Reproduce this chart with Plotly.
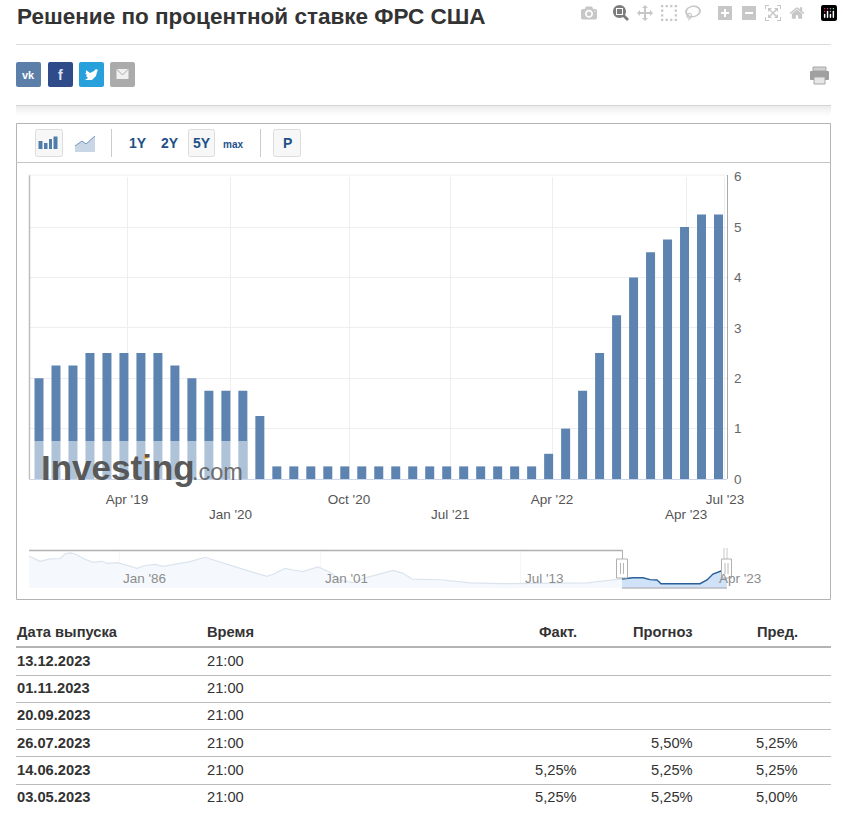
import plotly.graph_objects as go

# bars: one per FOMC meeting, Aug 2018 to Jun 2023
rate_values = [2.0, 2.25, 2.25, 2.5, 2.5, 2.5, 2.5, 2.5, 2.25, 2.0, 1.75, 1.75, 1.75, 1.25,
               0.25, 0.25, 0.25, 0.25, 0.25, 0.25, 0.25, 0.25, 0.25, 0.25, 0.25, 0.25, 0.25, 0.25, 0.25, 0.25,
               0.5, 1.0, 1.75, 2.5, 3.25, 4.0, 4.5, 4.75, 5.0, 5.25, 5.25]
# the axis is ordinal, so the date ticks fall between meeting numbers
tick_index = [5.18, 11.3, 18.25, 24.25, 30.2, 38.1, 40.38]
tick_labels = ["Apr '19", "Jan '20", "Oct '20", "Jul '21", "Apr '22", "Apr '23", "Jul '23"]
tick_row = [0, 1, 0, 1, 0, 1, 0]
y_ticks = [0, 1, 2, 3, 4, 5, 6]

# navigator overview series
nav_pos = [29, 40, 50, 60, 65, 70, 75, 85, 93, 102, 107, 117, 127, 137, 143, 155, 163, 177, 190, 205,
           220, 237, 253, 267, 273, 285, 293, 303, 318, 330, 340, 353, 367, 393, 403, 412, 420,
           440, 470, 500, 587, 622, 633, 643, 650, 657, 661, 700, 707, 713, 721, 727]
nav_rate = [11.15, 9.05, 9.97, 10.1, 11.94, 12.33, 11.94, 9.84, 8.66, 9.05, 8.27, 8.53, 7.48, 6.3, 7.22, 7.87,
            7.09, 8.13, 8.92, 10.63, 8.66, 6.69, 4.72, 3.15, 3.94, 6.3, 5.64, 4.99, 6.82, 4.72, 1.71, 0.66,
            2.76, 5.51, 4.33, 2.1, 1.97, 1.8, 0.6, 0.25, 0.55, 2.1, 2.6, 2.6, 1.84, 1.71, 0.25, 0.25, 1.71, 4.07, 5.25, 5.25]
nav_floor = -1.44
nav_grid = [119, 320, 520]
nav_labels = ["Jan '86", "Jan '01", "Jul '13", "Apr '23"]
nav_label_pos = [123, 325, 525, 719]
nav_start = 622

# table under the chart
table_header = ["Дата выпуска", "Время", "Факт.", "Прогноз", "Пред."]
release_dates = ["13.12.2023", "01.11.2023", "20.09.2023", "26.07.2023", "14.06.2023", "03.05.2023"]
release_times = ["21:00", "21:00", "21:00", "21:00", "21:00", "21:00"]
actual = ["", "", "", "", "5,25%", "5,25%"]
forecast = ["", "", "", "5,50%", "5,25%", "5,25%"]
previous = ["", "", "", "5,25%", "5,25%", "5,00%"]

# everything below is in screenshot pixels
W, H = 843, 825
FONT = "Liberation Sans"


def fx(x):
    return x / W


def fy(y):
    return 1 - y / H


shapes = []
notes = []


def rect(x0, y0, x1, y1, fill=None, line=None, lw=1, layer="above", opacity=1):
    shapes.append(dict(type="rect", xref="paper", yref="paper", x0=fx(x0), x1=fx(x1), y0=fy(y0), y1=fy(y1),
                       fillcolor=fill or "rgba(0,0,0,0)", line=dict(color=line or "rgba(0,0,0,0)", width=lw if line else 0),
                       layer=layer, opacity=opacity))


def hline(x0, x1, y, color, lw=1):
    shapes.append(dict(type="line", xref="paper", yref="paper", x0=fx(x0), x1=fx(x1), y0=fy(y), y1=fy(y),
                       line=dict(color=color, width=lw), layer="above"))


def vline(x, y0, y1, color, lw=1):
    shapes.append(dict(type="line", xref="paper", yref="paper", x0=fx(x), x1=fx(x), y0=fy(y0), y1=fy(y1),
                       line=dict(color=color, width=lw), layer="above"))


def poly(points, fill=None, line=None, lw=1, close=True):
    d = "M" + " L".join("%.5f %.5f" % (fx(a), fy(b)) for a, b in points) + (" Z" if close else "")
    shapes.append(dict(type="path", xref="paper", yref="paper", path=d, fillcolor=fill or "rgba(0,0,0,0)",
                       line=dict(color=line or "rgba(0,0,0,0)", width=lw if line else 0), layer="above"))


def round_box(x0, y0, x1, y1, r, fill, line=None):
    d = ("M%.5f %.5f L%.5f %.5f Q%.5f %.5f %.5f %.5f L%.5f %.5f Q%.5f %.5f %.5f %.5f "
         "L%.5f %.5f Q%.5f %.5f %.5f %.5f L%.5f %.5f Q%.5f %.5f %.5f %.5f Z") % (
        fx(x0 + r), fy(y0), fx(x1 - r), fy(y0), fx(x1), fy(y0), fx(x1), fy(y0 + r),
        fx(x1), fy(y1 - r), fx(x1), fy(y1), fx(x1 - r), fy(y1),
        fx(x0 + r), fy(y1), fx(x0), fy(y1), fx(x0), fy(y1 - r),
        fx(x0), fy(y0 + r), fx(x0), fy(y0), fx(x0 + r), fy(y0))
    shapes.append(dict(type="path", xref="paper", yref="paper", path=d, fillcolor=fill,
                       line=dict(color=line or fill, width=1 if line else 0), layer="above"))


def text(x, y, s, size=14, color="#333333", bold=False, anchor="left"):
    notes.append(dict(xref="paper", yref="paper", x=fx(x), y=fy(y), text="<b>%s</b>" % s if bold else s,
                      showarrow=False, xanchor=anchor, yanchor="middle", align=anchor,
                      font=dict(family=FONT, size=size, color=color), borderpad=0, borderwidth=0))


# heading and rules
text(17, 16, "Решение по процентной ставке ФРС США", 22.5, "#333333", True)
hline(16, 831, 44.5, "#dcdcdc")
for i, alpha in enumerate([0.07, 0.05, 0.035, 0.02, 0.01]):
    rect(16, 106 + i * 2, 831, 108 + i * 2, fill="rgba(0,0,0,%s)" % alpha, layer="below")
hline(16, 831, 105.5, "#d4d4d4")

# share buttons
round_box(16, 62, 41, 87, 2, "#5b7fa8")
text(28.5, 75, "vk", 11, "#ffffff", True, "center")
round_box(48, 62, 73, 87, 2, "#2f4b8a")
text(60.5, 75, "f", 14, "#dfe5f2", True, "center")
round_box(79, 62, 104, 87, 2, "#27a0dc")
poly([(86, 70), (90, 73), (94, 71), (96, 69), (98, 70), (97, 72), (96, 76), (92, 80), (85, 80), (88, 78),
      (86, 76), (87, 75), (85, 73), (86, 73)], fill="#ffffff")
round_box(110, 62, 135, 87, 2, "#ababab")
rect(116.5, 69, 128.5, 79, fill="#f0f0f0")
poly([(116.5, 69), (122.5, 75), (128.5, 69)], line="#ababab", close=False)

# printer
rect(813, 67, 826, 71, fill="#d0d0d0", line="#a8a8a8")
round_box(810, 71, 829, 80, 1, "#a0a0a0")
rect(814, 77, 825, 84, fill="#e6e6e6", line="#a8a8a8")

# chart box and toolbar
rect(16.5, 123.5, 830.5, 599.5, line="#b4b4b4", layer="below")
hline(16, 831, 162.5, "#c4c4c4")
round_box(35.5, 129.5, 62.5, 156.5, 2, "#f7f7f7", "#dddddd")
for a, b, top in [(38.5, 42.5, 141), (44, 47.5, 143), (49, 52, 139), (53.5, 57.5, 136.5)]:
    rect(a, top, b, 149, fill="#4f7cab")
poly([(75, 146), (82, 141), (86, 144), (95, 136), (95, 152), (75, 152)], fill="#c9d6e6")
poly([(75, 146), (82, 141), (86, 144), (95, 136)], line="#7396bb", close=False)
vline(111.5, 129, 157, "#cccccc")
text(138, 143, "1Y", 14, "#1f5188", True, "center")
text(170, 143, "2Y", 14, "#1f5188", True, "center")
round_box(188.5, 129.5, 214.5, 156.5, 2, "#f7f7f7", "#dddddd")
text(202, 143, "5Y", 14, "#1f5188", True, "center")
text(233, 144, "max", 10, "#1f5188", True, "center")
vline(260.5, 129, 157, "#cccccc")
round_box(273.5, 129.5, 300.5, 156.5, 2, "#f7f7f7", "#dddddd")
text(287, 143, "P", 14, "#1f5188", True, "center")

# frame of the plot, top grid line sits a little above the 6 level
vline(29.5, 175, 479, "#bdbdbd", 1.5)
vline(727.5, 175, 479, "#aaaaaa")
hline(29, 727, 175, "#eeeeee")

# watermark
rect(30, 441, 247, 479, fill="rgba(255,255,255,0.5)")
text(41, 467, "Investing", 35, "rgba(80,80,80,0.95)", True)
text(192, 472, ".com", 23.5, "rgba(95,95,95,0.9)")
shapes.append(dict(type="circle", xref="paper", yref="paper", x0=fx(143.5), x1=fx(148.5), y0=fy(454), y1=fy(459),
                   fillcolor="#f2b544", line=dict(width=0), layer="above"))

# navigator furniture
hline(29, 622, 550.5, "#b0b0b0", 1.5)
vline(622.5, 550, 560, "#b0b0b0")
vline(724, 548, 560, "#c8c8c8")
vline(727, 548, 560, "#c8c8c8")
hline(622, 727, 588, "#b8b8c0", 1.5)
for a, b in [(616.5, 627.5), (721.5, 731.5)]:
    rect(a, 559, b, 578, fill="#ffffff", line="#b0b0b0")
    vline((a + b) / 2 - 1.5, 563, 574, "#b8b8b8")
    vline((a + b) / 2 + 1.5, 563, 574, "#b8b8b8")
for s, pos in zip(nav_labels, nav_label_pos):
    text(pos, 578, s, 13.5, "#8c8c8c")

# second row of the date labels, the first row are normal tick labels
for s, pos, row in zip(tick_labels, tick_index, tick_row):
    if row:
        notes.append(dict(xref="x", yref="paper", x=pos, y=fy(514), text=s, showarrow=False, xanchor="center",
                          yanchor="middle", font=dict(family=FONT, size=13.5, color="#555555")))

# table
col_left = [17, 207]
col_right = [577, 693, 798]
for s, x in zip(table_header[:2], col_left):
    text(x, 632, s, 14.7, "#333333", True)
for s, x in zip(table_header[2:], col_right):
    text(x, 632, s, 14.7, "#333333", True, "right")
hline(16, 831, 647, "#b4b4b4", 2)
row_y = [661, 688, 715, 743, 770, 797]
rule_y = [675.5, 702.5, 729.5, 756.5, 784.5]
for y in rule_y:
    hline(16, 831, y, "#bcbcbc")
for i, y in enumerate(row_y):
    text(col_left[0], y, release_dates[i], 14.7, "#333333", True)
    text(col_left[1], y, release_times[i], 14.7, "#333333")
    for vals, x in zip([actual, forecast, previous], col_right):
        if vals[i]:
            text(x, y, vals[i], 14.7, "#333333", anchor="right")

fig = go.Figure()
fig.add_trace(go.Bar(x=list(range(len(rate_values))), y=rate_values, width=0.53,
                     marker=dict(color="#5d84b1", line=dict(width=0)), xaxis="x", yaxis="y"))

# navigator: pale full history, stronger in the selected window
fig.add_trace(go.Scatter(x=nav_pos, y=[nav_floor] * len(nav_pos), mode="lines", line=dict(width=0),
                         xaxis="x2", yaxis="y2"))
fig.add_trace(go.Scatter(x=nav_pos, y=nav_rate, mode="lines", line=dict(color="#dbe4ee", width=1.2),
                         fill="tonexty", fillcolor="#f5f9fd", xaxis="x2", yaxis="y2"))
sel_x = [a for a in nav_pos if a >= nav_start]
sel_y = [b for a, b in zip(nav_pos, nav_rate) if a >= nav_start]
fig.add_trace(go.Scatter(x=sel_x, y=[nav_floor] * len(sel_x), mode="lines", line=dict(width=0),
                         xaxis="x2", yaxis="y2"))
fig.add_trace(go.Scatter(x=sel_x, y=sel_y, mode="lines", line=dict(color="#2a6099", width=1.4),
                         fill="tonexty", fillcolor="#cfe2f8", xaxis="x2", yaxis="y2"))

fig.update_layout(
    width=W, height=H, autosize=False, showlegend=False, hovermode=False,
    margin=dict(l=0, r=0, t=0, b=0, pad=0),
    paper_bgcolor="#ffffff", plot_bgcolor="#ffffff",
    font=dict(family=FONT, size=13.5, color="#555555"),
    shapes=shapes, annotations=notes,
    xaxis=dict(domain=[fx(29), fx(727)], range=[-0.589, 40.5], anchor="y", tickmode="array",
               tickvals=tick_index, ticktext=[s if not r else " " for s, r in zip(tick_labels, tick_row)],
               showgrid=True, gridcolor="#eeeeee", gridwidth=1,
               showline=True, linecolor="#ccd6eb", linewidth=1, ticks="", zeroline=False, ticklabelstandoff=8,
               tickangle=0, automargin=False, tickfont=dict(size=13.5, color="#555555")),
    yaxis=dict(domain=[fy(479), fy(176.6)], range=[0, 6], anchor="x", side="right", tickmode="array",
               tickvals=y_ticks, showgrid=True, gridcolor="#eeeeee", gridwidth=1, zeroline=False,
               showline=False, ticks="", ticklabelstandoff=6,
               automargin=False, tickfont=dict(size=13.5, color="#666666")),
    xaxis2=dict(domain=[fx(29), fx(727)], range=[29, 727], anchor="y2", tickmode="array", tickvals=nav_grid,
                showticklabels=False, showgrid=True, gridcolor="#f6f6f6", zeroline=False, showline=False, ticks="",
                automargin=False),
    yaxis2=dict(domain=[fy(588), fy(551)], range=[nav_floor, 13.1], anchor="x2", showticklabels=False,
                showgrid=False, zeroline=False, showline=False, ticks="", automargin=False),
)

# the figure takes the whole window, so no default body margin
fig.write_html("out.html", post_script="document.body.style.margin='0';")
